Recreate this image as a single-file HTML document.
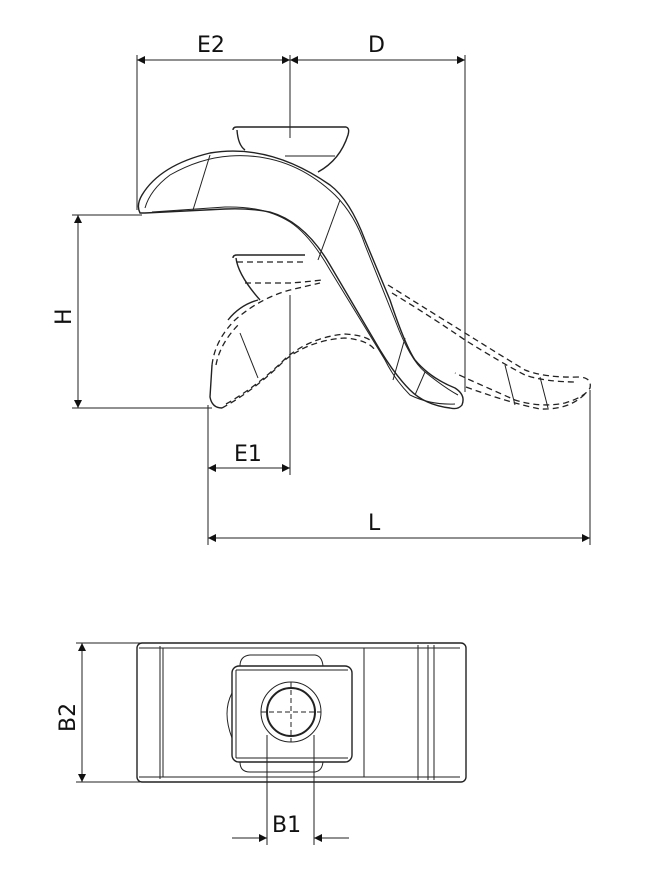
<!DOCTYPE html>
<html><head><meta charset="utf-8"><style>
html,body{margin:0;padding:0;background:#fff;}
svg{display:block;}
text{font-family:"DejaVu Sans","Liberation Sans",sans-serif;font-size:22px;fill:#111;}
</style></head><body>
<svg width="653" height="881" viewBox="0 0 653 881" xmlns="http://www.w3.org/2000/svg">
<defs>
<marker id="a" viewBox="0 0 10 10" refX="10" refY="5" markerWidth="14" markerHeight="8" orient="auto-start-reverse" markerUnits="userSpaceOnUse"><path d="M0,0 L10,5 L0,10 z" fill="#111"/></marker>
</defs>
<g stroke="#222" fill="none" stroke-width="1">
<line x1="137" y1="55" x2="137" y2="210"/>
<line x1="290" y1="55" x2="290" y2="138"/>
<line x1="465" y1="55" x2="465" y2="392"/>
<line x1="72" y1="215" x2="142" y2="215"/>
<line x1="72" y1="408" x2="212" y2="408"/>
<line x1="208" y1="405" x2="208" y2="545"/>
<line x1="290" y1="295" x2="290" y2="475"/>
<line x1="590" y1="390" x2="590" y2="545"/>
<line x1="137" y1="60" x2="290" y2="60" marker-start="url(#a)" marker-end="url(#a)"/>
<line x1="290" y1="60" x2="465" y2="60" marker-start="url(#a)" marker-end="url(#a)"/>
<line x1="78" y1="215" x2="78" y2="408" marker-start="url(#a)" marker-end="url(#a)"/>
<line x1="208" y1="468" x2="290" y2="468" marker-start="url(#a)" marker-end="url(#a)"/>
<line x1="208" y1="538" x2="590" y2="538" marker-start="url(#a)" marker-end="url(#a)"/>
</g>
<g stroke="#222" fill="none" stroke-width="1.4">
<path d="M233,130 Q233,127 237,127 L346,127 Q350,128 348,135 Q340,160 318,172 M237,130 Q238,145 245,150"/>
<line x1="285" y1="156" x2="335" y2="156" stroke-width="1"/>
<path d="M140,213 Q136,205 142,195 Q160,165 210,153 Q270,143 330,185 Q350,200 365,240 L390,300 Q405,345 415,360 Q430,378 455,388 Q466,395 462,405 Q458,410 450,408 Q425,405 410,390 Q395,375 380,350 L330,265 Q305,222 270,212 Q250,208 225,209 L145,213 Z"/>
<path d="M145,208 Q150,190 170,175 Q200,158 230,156 Q290,152 335,195 Q355,215 365,245 L395,320 Q410,360 425,372 Q445,388 458,395 M152,212 L225,207 Q265,206 290,222 Q310,235 330,270 L385,360 Q395,380 410,395 Q430,405 455,404" stroke-width="1"/>
<line x1="193" y1="210" x2="210" y2="155" stroke-width="1"/>
<line x1="318" y1="260" x2="340" y2="200" stroke-width="1"/>
<line x1="393" y1="380" x2="405" y2="338" stroke-width="1"/>
<line x1="415" y1="395" x2="425" y2="372" stroke-width="1"/>
<path d="M233,258 Q233,255 237,255 L305,255 M236,258 Q238,275 260,300"/>
<path d="M212,365 L210,397 Q212,408 222,408 M258,300 Q240,305 228,320"/>
</g>
<g stroke="#222" fill="none" stroke-width="1.3" stroke-dasharray="6,4">
<path d="M237,262 L305,262"/>
<path d="M245,283 L290,283 Q305,282 322,280"/>
<path d="M212,365 Q215,340 235,320 Q260,298 290,290 L320,283"/>
<path d="M216,365 Q220,343 240,323"/>
<path d="M222,408 Q255,390 285,360 Q310,340 345,338 Q368,340 375,350"/>
<path d="M226,404 Q258,386 287,357 Q312,337 345,334 Q362,335 370,340"/>
<path d="M388,285 Q420,305 465,333 Q505,358 525,370 Q545,378 580,377 Q592,378 590,388 Q585,397 565,403 Q540,408 515,400 L470,380 L455,373"/>
<path d="M392,293 Q430,316 465,340 Q500,362 525,375 Q545,382 578,382"/>
<path d="M466,387 Q510,403 540,409 Q570,410 586,393"/>
</g>
<g stroke="#222" fill="none" stroke-width="1">
<line x1="240" y1="333" x2="258" y2="378"/>
<line x1="505" y1="365" x2="515" y2="405"/>
<line x1="540" y1="377" x2="548" y2="408"/>
</g>
<text x="197" y="52">E2</text>
<text x="368" y="52">D</text>
<text x="234" y="461">E1</text>
<text x="368" y="530">L</text>
<text transform="translate(71,325) rotate(-90)">H</text>
<g stroke="#222" fill="none" stroke-width="1">
<line x1="76" y1="643" x2="140" y2="643"/>
<line x1="76" y1="782" x2="140" y2="782"/>
<line x1="82" y1="643" x2="82" y2="782" marker-start="url(#a)" marker-end="url(#a)"/>
<line x1="267" y1="735" x2="267" y2="845"/>
<line x1="314" y1="735" x2="314" y2="845"/>
<line x1="232" y1="838" x2="267" y2="838" marker-end="url(#a)"/>
<line x1="349" y1="838" x2="314" y2="838" marker-end="url(#a)"/>
</g>
<g stroke="#222" fill="none" stroke-width="1.4">
<rect x="137" y="643" width="329" height="139" rx="5"/>
<rect x="232" y="666" width="120" height="96" rx="7"/>
<circle cx="291" cy="712" r="30" stroke-width="1"/>
<circle cx="291" cy="712" r="24" stroke-width="2"/>
</g>
<g stroke="#222" fill="none" stroke-width="1">
<line x1="160" y1="646" x2="160" y2="779"/>
<line x1="139" y1="648" x2="460" y2="648"/>
<line x1="139" y1="777" x2="460" y2="777"/>
<line x1="163" y1="648" x2="163" y2="777"/>
<line x1="364" y1="648" x2="364" y2="777"/>
<line x1="418" y1="645" x2="418" y2="780"/>
<line x1="428" y1="645" x2="428" y2="780"/>
<line x1="434" y1="645" x2="434" y2="780"/>
<line x1="236" y1="670" x2="236" y2="758"/>
<line x1="236" y1="670" x2="348" y2="670"/>
<line x1="236" y1="758" x2="348" y2="758"/>
<path d="M240,666 Q240,656 250,655 L315,655 Q322,656 323,666"/>
<path d="M240,762 Q240,772 250,772 L315,772 Q322,771 323,762"/>
<path d="M232,693 Q222,712 232,738"/>
<line x1="261" y1="712" x2="321" y2="712" stroke-dasharray="5,3"/>
<line x1="291" y1="682" x2="291" y2="742" stroke-dasharray="5,3"/>
</g>
<text x="272" y="832">B1</text>
<text transform="translate(75,732) rotate(-90)">B2</text>
</svg>
</body></html>
